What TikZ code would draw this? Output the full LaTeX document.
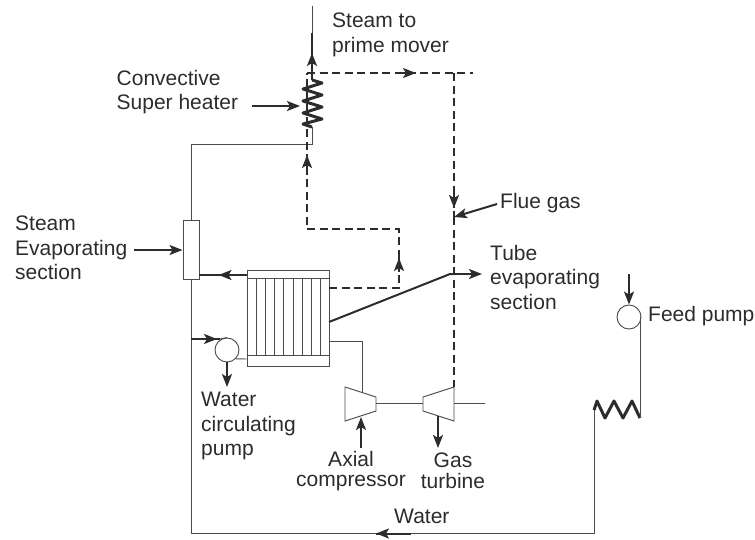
\documentclass[tikz,border=0pt]{standalone}
\usepackage{fontspec}
\setmainfont{Liberation Sans}
\usetikzlibrary{calc,arrows.meta}
\usetikzlibrary{decorations.markings}
\definecolor{inkline}{HTML}{2E2C2B}
\tikzset{
	pipe/.style={draw=inkline!85, line width=0.95pt},
	gasline/.style={draw=inkline, line width=2pt, dash pattern=on 8pt off 4.5pt},
	flow/.style={draw=inkline, line width=2pt},
	coil/.style={draw=inkline, line width=3pt, line join=round},
	flowtip/.style={-{Stealth[length=13pt,width=10pt,inset=3pt]}},
	tipat/.style={postaction={decorate},decoration={markings,
		mark=at position #1 with {\arrow{Stealth[length=13pt,width=10pt,inset=3pt]}}}},
	label/.style={anchor=west, align=left, inner sep=0pt, text=inkline,
		font=\fontsize{21}{24.5}\selectfont},
	pumpnode/.style={circle, pipe, inner sep=0pt, minimum size=24pt},
}
\begin{document}
\begin{tikzpicture}[x=1pt,y=-1pt]
	\useasboundingbox (0,0) rectangle (755,539);
	% units
	\node[rectangle, pipe, inner sep=0pt, minimum width=16pt, minimum height=59pt] (steamdrum) at (191,249.5) {};
	\node[rectangle, pipe, inner sep=0pt, minimum width=82pt, minimum height=96pt] (tubebank) at (288,318) {};
	\node[pumpnode] (circpump) at (227,350) {};
	\node[pumpnode] (feedpump) at (629,317) {};
	\draw[pipe] (tubebank.north west)++(0,9) -- ($(tubebank.north east)+(0,9)$);
	\draw[pipe] (tubebank.south west)++(0,-11) -- ($(tubebank.south east)+(0,-11)$);
	\foreach \x in {256,265,274,283,293,302,311,320}
		\draw[pipe] (\x,279) -- (\x,355);
	\draw[pipe] (345,387) -- (376,397) -- (376,411) -- (345,421) -- cycle;
	\draw[pipe] (423,397) -- (454,387) -- (454,421) -- (423,411) -- cycle;
	% fixed points on the lines
	\coordinate (steamout) at (312,6);
	\coordinate (coiltop) at (312,80);
	\coordinate (coilend) at (312,127);
	\coordinate (gastop) at (307,73);
	\coordinate (gascorner) at (454,73);
	\coordinate (gasend) at (473,73);
	\coordinate (gasjoint) at (454,217);
	\coordinate (turbtop) at (454,387);
	\coordinate (gasleft) at (307,229);
	\coordinate (gasright) at (399,229);
	\coordinate (bankgas) at (399,288);
	\coordinate (compout) at (376,403);
	\coordinate (turbin) at (423,403);
	\coordinate (turbout) at (454,403);
	\coordinate (shaftend) at (485,403);
	\coordinate (econin) at (594,410);
	\coordinate (econout) at (640,418);
	% steam side
	\draw[flow, tipat=27pt] (coiltop) -- (312,33);
	\draw[pipe] (steamout) -- (312,33);
	\draw[coil] (coiltop) -- (322,83)
		\foreach \y in {0,1,2} { -- (303,89+\y*12) -- (322,95+\y*12) } -- (303,124) -- (coilend);
	\draw[pipe] (coilend) -- (312,144) -- (191,144) -- (steamdrum.north);
	\draw[pipe] (steamdrum.south) -- (191,533.5) -- (594,533.5) -- (econin);
	\draw[flow, tipat=1] (411,533.5) -- (376,533.5);
	\draw[coil] (econin) -- (597,401)
		\foreach \x in {0,1} { -- (605+\x*18,418) -- (614+\x*18,401) } -- (econout);
	\draw[pipe] (econout) -- (640,317);
	\draw[flow, flowtip] (629,274) -- (feedpump.north);
	% tube bank connections
	\draw[flow, tipat=28pt] (tubebank.west |- 0,275) -- (steamdrum.east |- 0,275);
	\draw[flow] (329,322) -- (450,274) -- (454,274);
	\draw[flow, flowtip] (454,274) -- (482,274);
	\draw[flow, tipat=26pt] (steamdrum.south |- 0,339) -- (220,339);
	\draw[pipe] (220,339) -- (circpump.north);
	\draw[pipe] (circpump.south east) -- (tubebank.west |- 0,359);
	\draw[flow, flowtip] (circpump.south) -- (227,387);
	\draw[pipe] (329,341) -- (362,341) -- (362,392);
	\draw[pipe] (compout) -- (turbin);
	\draw[pipe] (turbout) -- (shaftend);
	\draw[flow, flowtip] (361,448) -- (361,417);
	\draw[flow, flowtip] (438,416) -- (438,448);
	% gas side
	\draw[gasline] (gastop) -- (gasend);
	\draw[flow, tipat=1] (395,73) -- (416,73);
	\draw[gasline] (gascorner) -- (gasjoint);
	\draw[flow, tipat=1] (454,194) -- (454,208);
	\draw[gasline] (gasjoint) -- (turbtop);
	\draw[gasline] (bankgas -| tubebank.east) -- (bankgas) -- (gasright) -- (gasleft) -- (gastop);
	\draw[flow, tipat=1] (399,272) -- (399,258);
	\draw[flow, tipat=1] (307,170) -- (307,155);
	% labels
	\node[label] (steamlabel) at (332,35) {Steam to\\prime mover};
	\node[label] (coillabel) at (116.5,92) {Convective\\Super heater};
	\node[label] (drumlabel) at (15,248) {Steam\\Evaporating\\section};
	\node[label] (fluelabel) at (500,203) {Flue gas};
	\node[label] (tubelabel) at (490,277) {Tube\\evaporating\\section};
	\node[label] (feedlabel) at (648,316) {Feed pump};
	\node[label] (pumplabel) at (201,426) {Water\\circulating\\pump};
	\node[label, align=center, anchor=center, font=\fontsize{21}{20.5}\selectfont] (complabel) at (351,471) {Axial\\compressor};
	\node[label, align=center, anchor=center, font=\fontsize{21}{20.5}\selectfont] (turblabel) at (453,471) {Gas\\turbine};
	\node[label] (waterlabel) at (394,516) {Water};
	% label pointers
	\draw[flow, flowtip] (252,106) -- (300,106);
	\draw[flow, flowtip] (134,250) -- (steamdrum.west |- 0,250);
	\draw[flow, flowtip] (497,204) -- (gasjoint);
\end{tikzpicture}
\end{document}
